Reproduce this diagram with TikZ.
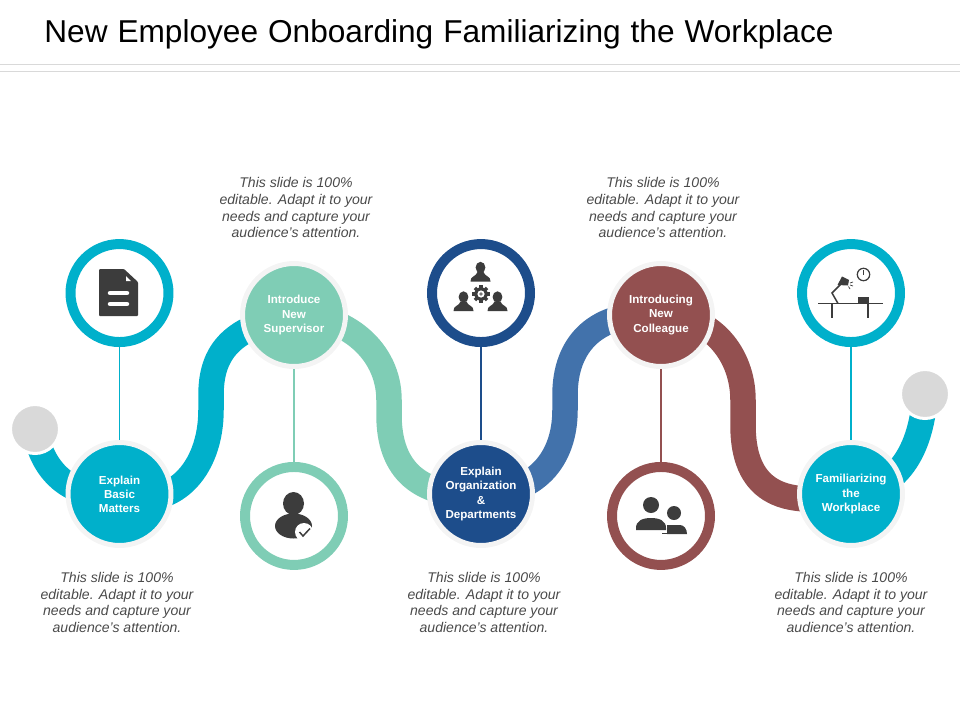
\documentclass[tikz,border=0pt]{standalone}
\usepackage{fontspec}
\setmainfont{Liberation Sans}
\usepackage{xcolor}
\usetikzlibrary{positioning,backgrounds}

\definecolor{tealc}{HTML}{00B0CB}
\definecolor{mintc}{HTML}{7FCDB5}
\definecolor{navyc}{HTML}{1D4D8B}
\definecolor{bluec}{HTML}{4272AB}
\definecolor{brownc}{HTML}{935050}
\definecolor{greyc}{HTML}{D9D9D9}
\definecolor{haloc}{HTML}{F4F4F4}
\definecolor{iconc}{HTML}{3C3C3C}
\definecolor{textc}{HTML}{4A4A4A}

\tikzset{
    headbust/.pic={
        \fill[iconc] (0,-4.5) ellipse [x radius=4.9, y radius=5.7];
        \fill[iconc] (-10,9.5) .. controls (-10.5,4) and (-4,4.5) .. (-3,0) -- (3,0)
            .. controls (4,4.5) and (10.5,4) .. (10,9.5) -- cycle;
    }
}

\begin{document}
\begin{tikzpicture}[
    x=0.02cm, y=-0.02cm,
    node distance=1.86cm,
    stepnode/.style={circle, fill=#1, draw=haloc, line width=0.1cm, minimum size=2.06cm, inner sep=0pt, align=center, text=white, font=\fontsize{6.6}{8.05}\selectfont\bfseries},
    iconring/.style={circle, fill=white, draw=#1, line width=0.2cm, minimum size=1.96cm, inner sep=0pt},
    endcap/.style={circle, fill=greyc, draw=white, line width=0.06cm, minimum size=0.98cm, inner sep=0pt},
    ribbon/.style={draw=#1, line width=0.51cm},
    stalk/.style={draw=#1, line width=0.025cm},
    caption/.style={align=center, text=textc, font=\fontsize{8}{9.4}\selectfont\itshape, inner sep=0pt},
    rulerline/.style={draw=greyc, line width=0.02cm}
]
    \useasboundingbox (0,0) rectangle (960,720);

    \node[anchor=west, inner sep=0pt, font=\fontsize{18}{20}\selectfont] (title) at (44,34.5)
        {\spaceskip=5.66pt New Employee Onboarding Familiarizing the Workplace};
    \coordinate (ruleAl) at (0,64.5);
    \coordinate (ruleAr) at (960,64.5);
    \coordinate (ruleBl) at (0,71);
    \coordinate (ruleBr) at (960,71);
    \draw[rulerline] (ruleAl) -- (ruleAr);
    \draw[rulerline] (ruleBl) -- (ruleBr);

    % steps along the path
    \node[stepnode=tealc] (basic) at (119.5,494) {Explain\\Basic\\Matters};
    \node[stepnode=mintc] (supervisor) at (294,315) {Introduce\\New\\Supervisor};
    \node[stepnode=navyc] (organization) at (481,494) {Explain\\Organization\\\&\\Departments};
    \node[stepnode=brownc] (colleague) at (661,315) {Introducing\\New\\Colleague};
    \node[stepnode=tealc] (workplace) at (851,494) {Familiarizing\\the\\Workplace};

    \node[endcap] (startcap) at (35,429) {};
    \node[endcap] (finishcap) at (925,394) {};

    % icon rings
    \node[iconring=tealc, above=of basic] (basicring) {};
    \node[iconring=mintc, below=of supervisor] (supervisorring) {};
    \node[iconring=navyc, above=of organization] (organizationring) {};
    \node[iconring=brownc, below=of colleague] (colleaguering) {};
    \node[iconring=tealc, above=of workplace] (workplacering) {};

    % captions
    \node[caption, below=0.48cm of basic, xshift=-0.05cm] (basictext) {This slide is 100\%\\editable. Adapt it to your\\needs and capture your\\audience’s attention.};
    \node[caption, above=0.46cm of supervisor, xshift=0.04cm] (supervisortext) {This slide is 100\%\\editable. Adapt it to your\\needs and capture your\\audience’s attention.};
    \node[caption, below=0.48cm of organization, xshift=0.06cm] (organizationtext) {This slide is 100\%\\editable. Adapt it to your\\needs and capture your\\audience’s attention.};
    \node[caption, above=0.46cm of colleague, xshift=0.04cm] (colleaguetext) {This slide is 100\%\\editable. Adapt it to your\\needs and capture your\\audience’s attention.};
    \node[caption, below=0.48cm of workplace] (workplacetext) {This slide is 100\%\\editable. Adapt it to your\\needs and capture your\\audience’s attention.};

    \begin{scope}[on background layer]
        \draw[ribbon=tealc] (startcap.center) .. controls (42,475) and (75,500) .. (basic.center);
        \draw[ribbon=tealc] (basic.center) .. controls (172,512) and (211,470) .. (211,410)
            -- (211,395) .. controls (211,345) and (240,326) .. (supervisor.center);
        \draw[ribbon=mintc] (supervisor.center) .. controls (345,315) and (389,350) .. (389,400)
            -- (389,415) .. controls (389,470) and (420,498) .. (organization.center);
        \draw[ribbon=bluec] (organization.center) .. controls (535,494) and (565,460) .. (565,410)
            -- (565,395) .. controls (565,345) and (595,310) .. (colleague.center);
        \draw[ribbon=brownc] (colleague.center) .. controls (712,315) and (743,355) .. (743,400)
            -- (743,425) .. controls (743,480) and (770,512) .. (workplace.center);
        \draw[ribbon=tealc] (workplace.center) .. controls (890,490) and (921,460) .. (finishcap.center);

        \draw[stalk=tealc] (basicring) -- (basic);
        \draw[stalk=mintc] (supervisorring) -- (supervisor);
        \draw[stalk=navyc] (organizationring) -- (organization);
        \draw[stalk=brownc] (colleaguering) -- (colleague);
        \draw[stalk=tealc] (workplacering) -- (workplace);
    \end{scope}

    % document icon
    \fill[iconc, rounded corners=0.02cm] (99,269) -- (124,269) -- (138,282) -- (138,316) -- (99,316) -- cycle;
    \fill[white] (126,276) -- (131,281) -- (126,281) -- cycle;
    \draw[white, line width=0.09cm, line cap=round] (110,293) -- (127,293);
    \draw[white, line width=0.09cm, line cap=round] (110,304) -- (127,304);

    % supervisor icon
    \fill[iconc] (293.5,503.5) ellipse [x radius=10.5, y radius=11.5];
    \fill[iconc] (293.5,526) ellipse [x radius=18.5, y radius=12.5];
    \fill[white] (304,532) circle [radius=9];
    \draw[iconc, line width=0.03cm] (299.5,532) -- (303,536) -- (310,528.5);

    % organization icon
    \pic at (480.5,272) {headbust};
    \pic at (463.5,301.5) {headbust};
    \pic at (497.5,301.5) {headbust};
    \fill[white] (481,294) circle [radius=9];
    \foreach \a in {0,45,...,315}
        \draw[iconc, line width=0.07cm] (481,294) -- ++(\a:8.6);
    \fill[iconc] (481,294) circle [radius=6.7];
    \fill[white] (481,294) circle [radius=3.6];
    \fill[iconc!70] (481,294) circle [radius=1.8];

    % colleague icon
    \fill[iconc] (651,505) circle [radius=8];
    \fill[iconc] (636,530) -- (636,528) .. controls (636,521) and (642,518) .. (651,518)
        .. controls (660,518) and (666,521) .. (666,528) -- (666,530) -- cycle;
    \fill[iconc] (674,513) circle [radius=7];
    \fill[iconc] (667,534) -- (667,525) -- (680,525) .. controls (684,525) and (687,529) .. (687,534) -- cycle;
    \draw[iconc, line width=0.02cm] (662,533.5) -- (668,533.5);

    % desk icon
    \draw[iconc, line width=0.03cm] (818,303.5) -- (883,303.5);
    \draw[iconc, line width=0.03cm] (832,303.5) -- (832,318);
    \draw[iconc, line width=0.03cm] (868,303.5) -- (868,318);
    \fill[iconc] (858,297) rectangle (869,303.5);
    \draw[iconc, line width=0.025cm] (863.5,274.5) circle [radius=6.2];
    \draw[iconc, line width=0.02cm] (863.5,274.5) -- (863.5,269.5);
    \draw[iconc, line width=0.03cm] (838,303.5) -- (832,293) -- (842,283);
    \fill[iconc] (837.5,285) -- (842,276.5) -- (849,280) -- (848,285.5) -- cycle;
    \draw[iconc, line width=0.015cm] (850,283) -- (853,282);
    \draw[iconc, line width=0.015cm] (850,285) -- (853,286);
    \draw[iconc, line width=0.015cm] (848.5,286.5) -- (850,289);
\end{tikzpicture}
\end{document}
